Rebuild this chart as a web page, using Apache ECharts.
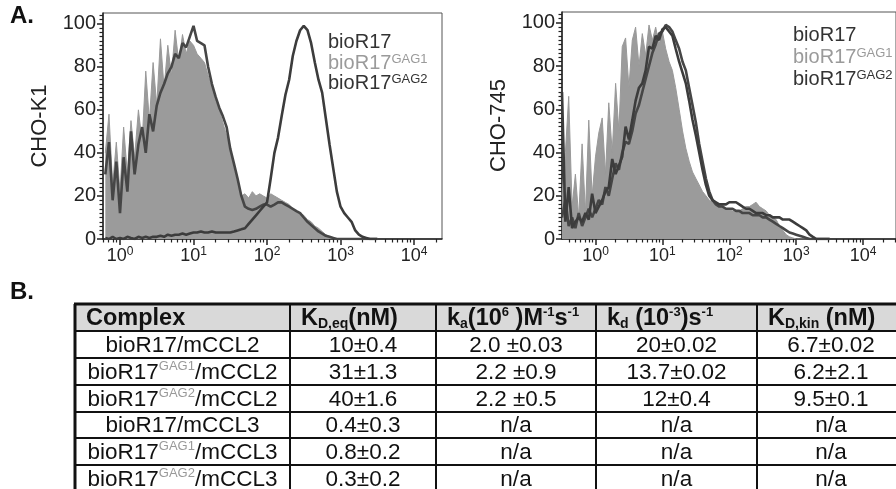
<!DOCTYPE html>
<html><head><meta charset="utf-8">
<script src="https://cdn.jsdelivr.net/npm/echarts@6/dist/echarts.min.js"></script>
<style>html,body{margin:0;padding:0;background:#fff}#c{width:896px;height:489px}</style>
</head><body><div id="c"></div>
<script>
// ---------- DATA ----------
// histogram bin centres (fluorescence intensity, log-spaced channels)
const bins = [0.316,0.355,0.398,0.447,0.501,0.562,0.631,0.708,0.794,0.891,
1,1.12,1.26,1.41,1.58,1.78,2.0,2.24,2.51,2.82,3.16,3.55,3.98,4.47,5.01,5.62,6.31,7.08,7.94,8.91,
10,11.2,12.6,14.1,15.8,17.8,20.0,22.4,25.1,28.2,31.6,35.5,39.8,44.7,50.1,56.2,63.1,70.8,79.4,89.1,
100,112,126,141,158,178,200,224,251,282,316,355,398,447,501,562,631,708,794,891,
1000,1122,1259,1413,1585,1778,1995,2239,2512,2818,3162];
// CHO-K1 panel (bins from 0.631)
const k1_GAG1 = [40,58,25,45,
22,52,30,55,38,60,45,78,55,82,
62,93,70,90,76,97,82,95,86,92,
90,86,84,82,76,70,64,60,54,48,
42,33,26,20,21,19,22,20,21,20,
19,21,20,19,18,17,16,14,13,12,
11,9,8,6,5,3.5,2,1,0.5,0,
0,0,0,0,0,0,0,0,0,0,0];
const k1_bioR17 = [0.5,0,1,0,
0.5,0,1,0.5,0,1,0.5,1,0.5,1,
1,1.5,1,2,1.5,2,2,2.5,2,2.5,
3,3,3.5,3,3,3.5,3,3,3,3,
3,3.5,4,4.5,5,7,9,11,13,15,
17,28,40,47,57,67,74,85,92,97,
99,97,91,82,74,68,56,44,33,22,
15,12,10,8,4,2,1,0.5,0,0,0];
const k1_GAG2 = [30,45,18,36,
12,38,22,50,30,44,52,40,58,50,
62,68,72,77,80,86,84,91,89,94,
99,92,91,90,80,72,66,61,57,52,
42,35,28,20,15,14,13.5,14,15,16,
16,15,16,17,17,16,15,14,13,12,
10,8,6.5,5,3.5,2.5,1.5,1,0.5,0,
0,0,0,0,0,0,0,0,0,0,0];
// CHO-745 panel (bins from 0.316)
const c745_GAG1 = [20,40,66,15,30,10,44,12,55,20,
38,49,56,30,63,40,72,50,89,93,
70,92,98,80,95,85,99,92,98,90,
96,88,82,78,70,60,50,42,36,31,
28,25,22,20,18,17,16,15,15,14,
14,13,13,13,14,15,15,16,17,15,
14,13,11,10,9,6,4,2,1,0.5,
0,0,0,0,0,0,0,0,0,0,0];
const c745_bioR17 = [68,8,24,5,8,10,8,12,9,21,
12,15,18,22,24,37,30,34,38,52,
46,55,64,70,72,78,89,88,94,92,
97,98,96,94,88,82,77,72,64,55,
48,40,32,25,20,18,17,16,16,16,
17,17,17,16,15,14,14,13,12,12,
12,11,11,10,10,10,9,9,9,8,
7,6,5,4,2,1,0,0,0,0,0];
const c745_GAG2 = [10,18,6,10,5,12,6,10,14,10,
14,18,16,24,20,28,35,32,40,45,
44,50,58,62,68,74,80,86,90,95,
96,99,98,96,92,88,82,78,70,62,
54,44,36,28,22,18,16,15,15,14,
14,14,13,13,12,12,12,11,11,11,
10,10,9,8,7,6,5,4,3,2.5,
2,1.5,1,0.5,0,0,0,0,0,0,0];
// axis ticks
const xMajorTicks = [1,10,100,1000,10000];
const xMinorTicks = [0.4,0.5,0.6,0.7,0.8,0.9,2,3,4,5,6,7,8,9,20,30,40,50,60,70,80,90,
200,300,400,500,600,700,800,900,2000,3000,4000,5000,6000,7000,8000,9000,20000,30000,40000];
const yMajorTicks = [0,20,40,60,80,100];
const yMinorTicks = [2,4,6,8,10,12,14,16,18,22,24,26,28,30,32,34,36,38,42,44,46,48,50,52,54,56,58,
62,64,66,68,70,72,74,76,78,82,84,86,88,90,92,94,96,98,102,104];
const panelNames = ['CHO-K1','CHO-745'];
const seriesNames = ['bioR17','bioR17GAG1','bioR17GAG2'];
// table
const tableHeaders = [
 '{hb|Complex}',
 '{hb|K}{hsub|D,eq}{hb|(nM)}',
 '{hb|k}{hsub|a}{hb|(10}{hsup|6}{hb| )M}{hsup|-1}{hb|s}{hsup|-1}',
 '{hb|k}{hsub|d}{hb| (10}{hsup|-3}{hb|)s}{hsup|-1}',
 '{hb|K}{hsub|D,kin}{hb| (nM)}'
];
const complexes = ['{t|bioR17/mCCL2}','{t|bioR17}{sup|GAG1}{t|/mCCL2}','{t|bioR17}{sup|GAG2}{t|/mCCL2}',
 '{t|bioR17/mCCL3}','{t|bioR17}{sup|GAG1}{t|/mCCL3}','{t|bioR17}{sup|GAG2}{t|/mCCL3}'];
const kdEq = ['10±0.4','31±1.3','40±1.6','0.4±0.3','0.8±0.2','0.3±0.2'];
const ka = ['2.0 ±0.03','2.2 ±0.9','2.2 ±0.5','n/a','n/a','n/a'];
const kd = ['20±0.02','13.7±0.02','12±0.4','n/a','n/a','n/a'];
const kdKin = ['6.7±0.02','6.2±2.1','9.5±0.1','n/a','n/a','n/a'];

// ---------- CHART ----------
const FF = 'Liberation Sans, Arial, Helvetica, sans-serif';
const chart = echarts.init(document.getElementById('c'));
const bins1 = bins.slice(6);
const pair = (xs, ys) => xs.map((x, i) => [x, ys[i]]);

const grids = [
  {left: 103, top: 13, width: 339, height: 226, xmin: 0.587, xmax: 24000},
  {left: 562, top: 12, width: 340, height: 227, xmin: 0.316, xmax: 31000}
];
const xAxes = [], yAxes = [], series = [];
grids.forEach((g, gi) => {
  xAxes.push({type: 'log', gridIndex: gi, position: 'bottom', min: g.xmin, max: g.xmax, logBase: 10,
    axisLine: {lineStyle: {color: '#222', width: 1.5}},
    axisTick: {inside: false, length: 6, customValues: xMajorTicks, lineStyle: {color: '#222', width: 1.5}},
    splitLine: {show: false}, minorTick: {show: false},
    axisLabel: {customValues: xMajorTicks, margin: 7, color: '#222',
      formatter: v => '{b|10}{s|' + Math.round(Math.log10(v)) + '}',
      rich: {b: {fontSize: 18, fontFamily: FF, color: '#222', lineHeight: 20},
             s: {fontSize: 12, fontFamily: FF, color: '#222', verticalAlign: 'top', lineHeight: 12}}}});
  xAxes.push({type: 'log', gridIndex: gi, position: 'bottom', offset: 0, min: g.xmin, max: g.xmax, logBase: 10,
    axisLine: {show: false}, axisLabel: {show: false}, splitLine: {show: false},
    axisTick: {inside: false, length: 3.5, customValues: xMinorTicks, lineStyle: {color: '#222', width: 1.2}}});
  yAxes.push({type: 'value', gridIndex: gi, position: 'left', min: 0, max: 105,
    name: panelNames[gi], nameLocation: 'middle', nameGap: 52, nameRotate: 90,
    nameTextStyle: {fontSize: 22, fontFamily: FF, color: '#222'},
    axisLine: {show: true, lineStyle: {color: '#222', width: 1.5}},
    axisTick: {show: true, length: 6, customValues: yMajorTicks, lineStyle: {color: '#222', width: 1.5}},
    splitLine: {show: false},
    axisLabel: {customValues: yMajorTicks, fontSize: 20, fontFamily: FF, color: '#222', margin: 7}});
  yAxes.push({type: 'value', gridIndex: gi, position: 'left', offset: 0, min: 0, max: 105,
    axisLine: {show: false}, axisLabel: {show: false}, splitLine: {show: false},
    axisTick: {show: true, length: 3.5, customValues: yMinorTicks, lineStyle: {color: '#222', width: 1.2}}});
});

function addPanel(gi, xs, g1, b, g2) {
  const xi = gi * 2, yi = gi * 2;
  series.push({name: seriesNames[1], type: 'line', xAxisIndex: xi, yAxisIndex: yi, data: pair(xs, g1),
    showSymbol: false, symbol: 'none', lineStyle: {color: '#999', width: 1}, areaStyle: {color: '#9b9b9b', opacity: 1}, z: 2});
  series.push({name: seriesNames[2], type: 'line', xAxisIndex: xi, yAxisIndex: yi, data: pair(xs, g2),
    showSymbol: false, symbol: 'none', lineStyle: {color: '#464646', width: 2.6}, z: 3});
  series.push({name: seriesNames[0], type: 'line', xAxisIndex: xi, yAxisIndex: yi, data: pair(xs, b),
    showSymbol: false, symbol: 'none', lineStyle: {color: '#3c3c3c', width: 2.6}, z: 4});
}
addPanel(0, bins1, k1_GAG1, k1_bioR17, k1_GAG2);
addPanel(1, bins, c745_GAG1, c745_bioR17, c745_GAG2);

// ---------- GRAPHICS: legends, panel letters, table ----------
const graphic = [];
const legendRich = {
  a: {fontSize: 20, fontFamily: FF, fill: '#333'},
  g: {fontSize: 20, fontFamily: FF, fill: '#9a9a9a'},
  sa: {fontSize: 13, fontFamily: FF, fill: '#333', verticalAlign: 'top'},
  sg: {fontSize: 13, fontFamily: FF, fill: '#9a9a9a', verticalAlign: 'top'}
};
const legendText = ['{a|bioR17}', '{g|bioR17}{sg|GAG1}', '{a|bioR17}{sa|GAG2}'];
[[328, [42, 63, 83]], [793, [35, 57, 79]]].forEach(([lx, ys]) => {
  legendText.forEach((t, i) => graphic.push({type: 'text', x: lx, y: ys[i],
    style: {text: t, rich: legendRich, verticalAlign: 'middle', align: 'left'}, z: 10}));
});
graphic.push({type: 'text', x: 10, y: 16, style: {text: 'A.', font: 'bold 24px ' + FF, fill: '#111', verticalAlign: 'middle'}});
graphic.push({type: 'text', x: 10, y: 292, style: {text: 'B.', font: 'bold 24px ' + FF, fill: '#111', verticalAlign: 'middle'}});

const colX = [75, 290, 436, 596, 757, 905];
const rowY = [304, 331, 358, 385, 412, 438, 465, 492];
const tRich = {
  hb: {fontSize: 23.5, fontWeight: 'bold', fontFamily: FF, fill: '#111', lineHeight: 26},
  hsub: {fontSize: 14, fontWeight: 'bold', fontFamily: FF, fill: '#111', verticalAlign: 'bottom', lineHeight: 14},
  hsup: {fontSize: 13, fontWeight: 'bold', fontFamily: FF, fill: '#111', verticalAlign: 'top', lineHeight: 13},
  t: {fontSize: 22.5, fontFamily: FF, fill: '#111', lineHeight: 25},
  sup: {fontSize: 13, fontFamily: FF, fill: '#999', verticalAlign: 'top', lineHeight: 12}
};
graphic.push({type: 'rect', shape: {x: colX[0], y: rowY[0], width: colX[5] - colX[0], height: rowY[1] - rowY[0]},
  style: {fill: '#d9d9d9'}});
tableHeaders.forEach((h, i) => graphic.push({type: 'text', x: colX[i] + 11, y: (rowY[0] + rowY[1]) / 2 + 1,
  style: {text: h, rich: tRich, align: 'left', verticalAlign: 'middle'}, z: 5}));
const cols = [complexes, kdEq, ka, kd, kdKin];
cols.forEach((col, ci) => col.forEach((v, ri) => {
  const txt = ci === 0 ? v : '{t|' + v + '}';
  graphic.push({type: 'text', x: (colX[ci] + colX[ci + 1]) / 2, y: (rowY[ri + 1] + rowY[ri + 2]) / 2 + 1,
    style: {text: txt, rich: tRich, align: 'center', verticalAlign: 'middle'}, z: 5});
}));
rowY.forEach((y, i) => graphic.push({type: 'line', shape: {x1: colX[0] - 1, y1: y, x2: colX[5], y2: y},
  style: {stroke: '#111', lineWidth: i === 0 ? 3 : 2}, z: 6}));
colX.forEach((x, i) => graphic.push({type: 'line', shape: {x1: x, y1: rowY[0], x2: x, y2: rowY[7]},
  style: {stroke: '#111', lineWidth: i === 0 ? 3 : 2}, z: 6}));

chart.setOption({
  animation: false,
  backgroundColor: '#fff',
  grid: grids.map(g => ({left: g.left, top: g.top, width: g.width, height: g.height,
    show: true, borderColor: '#555', borderWidth: 1, backgroundColor: 'transparent'})),
  xAxis: xAxes,
  yAxis: yAxes,
  series: series,
  graphic: graphic
});
</script></body></html>
